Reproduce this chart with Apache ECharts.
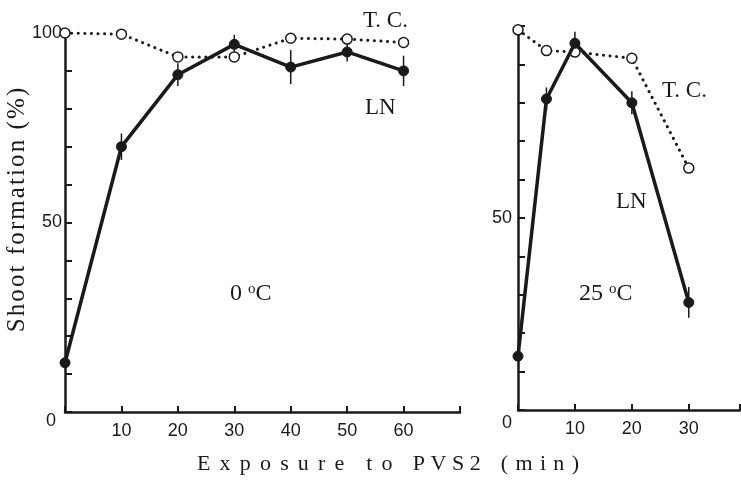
<!DOCTYPE html>
<html><head><meta charset="utf-8">
<script src="https://cdn.jsdelivr.net/npm/echarts@6/dist/echarts.min.js"></script>
<style>html,body{margin:0;padding:0;background:#fff}#c{width:741px;height:480px}</style>
</head><body><div id="c"></div>
<script>
// ---- data ----
const xLeft = [0, 10, 20, 30, 40, 50, 60];
const lnLeft = [13, 70, 89, 97, 91, 95, 90];
const lnLeftErr = [1, 3.5, 3, 2.5, 4.5, 2.5, 4];
const tcLeft = [100, 99.7, 93.7, 93.7, 98.6, 98.4, 97.5];
const xRight = [0, 5, 10, 20, 30];
const lnRight = [14, 81, 95.5, 80, 28];
const lnRightErr = [1, 3, 3, 3, 4];
const tcRight = [99, 93.6, 93.2, 91.6, 63];
const yLabelsLeft = [0, 50, 100];
const yLabelsRight = [0, 50];
const xLabelsLeft = [10, 20, 30, 40, 50, 60];
const xLabelsRight = [10, 20, 30];

const SERIF = '"Liberation Serif","DejaVu Serif",serif';
const NUM = '"Liberation Sans Narrow","Liberation Sans",Arial,sans-serif';
const INK = '#1a1a1a';
const HS = '\u200A';

// letter-spaced title: each word with its own tracking and following gap
const xTitle = [['Exposure', ' ' + HS + HS, '    '], ['to', ' ' + HS + HS, '   ' + HS + HS],
                ['PVS2', ' ', '   ' + HS + HS], ['(min)', ' ' + HS, '']]
  .map(([w, g, after]) => w.split('').join(g) + after).join('');

const pairs = (xs, ys) => xs.map((x, i) => [x, ys[i]]);
const errs = (xs, ys, es) => xs.map((x, i) => [x, ys[i] - es[i], ys[i] + es[i]]);

function errRender(params, api) {
  const x = api.value(0);
  const p1 = api.coord([x, api.value(1)]);
  const p2 = api.coord([x, api.value(2)]);
  return { type: 'line', shape: { x1: p1[0], y1: p1[1], x2: p2[0], y2: p2[1] },
           style: { stroke: INK, lineWidth: 1.5 } };
}

function yAxisCfg(idx, labels, zeroPad) {
  return {
    type: 'value', gridIndex: idx, min: 0, max: 100, interval: 10,
    axisLine: { show: true, lineStyle: { color: INK, width: 2.5 } },
    axisTick: { show: true, inside: true, length: 7, lineStyle: { color: INK, width: 2 } },
    splitLine: { show: false },
    axisLabel: {
      margin: idx === 0 ? 3 : 6, fontFamily: NUM, fontSize: 18, color: INK,
      formatter: v => v === 0 ? (labels.includes(0) ? '{z|0}' : '') : (labels.includes(v) ? String(v) : ''),
      rich: { z: { fontFamily: NUM, fontSize: 18, color: INK, padding: zeroPad } }
    }
  };
}
function xAxisCfg(idx, max, labels) {
  return {
    type: 'value', gridIndex: idx, min: 0, max: max, interval: 10,
    axisLine: { show: true, lineStyle: { color: INK, width: 2.5 } },
    axisTick: { show: true, inside: true, length: 6, lineStyle: { color: INK, width: 2 } },
    splitLine: { show: false },
    axisLabel: {
      margin: 10, fontFamily: NUM, fontSize: 18, color: INK,
      formatter: v => labels.includes(v) ? String(v) : ''
    }
  };
}

const lnStyle = { color: INK, width: 3.5 };
const tcStyle = { color: INK, width: 3, type: [0.1, 6.5], cap: 'round' };

const chart = echarts.init(document.getElementById('c'), null, { renderer: 'canvas' });
chart.setOption({
  backgroundColor: '#fff',
  animation: false,
  grid: [
    { left: 65, top: 33, width: 395, height: 379, containLabel: false, outerBoundsMode: 'none' },
    { left: 518, top: 26, width: 222, height: 384, containLabel: false, outerBoundsMode: 'none' }
  ],
  xAxis: [xAxisCfg(0, 70, xLabelsLeft), xAxisCfg(1, 39, xLabelsRight)],
  yAxis: [yAxisCfg(0, yLabelsLeft, [18, 6, 0, 0]), yAxisCfg(1, yLabelsRight, [26, 0, 0, 0])],
  series: [
    { type: 'custom', xAxisIndex: 0, yAxisIndex: 0, renderItem: errRender, data: errs(xLeft, lnLeft, lnLeftErr), z: 1 },
    { type: 'custom', xAxisIndex: 1, yAxisIndex: 1, renderItem: errRender, data: errs(xRight, lnRight, lnRightErr), z: 1 },
    { type: 'line', xAxisIndex: 0, yAxisIndex: 0, data: pairs(xLeft, tcLeft), lineStyle: tcStyle,
      symbol: 'circle', symbolSize: 10, itemStyle: { color: '#fff', borderColor: INK, borderWidth: 1.5 }, z: 3 },
    { type: 'line', xAxisIndex: 0, yAxisIndex: 0, data: pairs(xLeft, lnLeft), lineStyle: lnStyle,
      symbol: 'circle', symbolSize: 10, itemStyle: { color: INK, borderColor: INK }, z: 4 },
    { type: 'line', xAxisIndex: 1, yAxisIndex: 1, data: pairs(xRight, tcRight), lineStyle: tcStyle,
      symbol: 'circle', symbolSize: 10, itemStyle: { color: '#fff', borderColor: INK, borderWidth: 1.5 }, z: 3 },
    { type: 'line', xAxisIndex: 1, yAxisIndex: 1, data: pairs(xRight, lnRight), lineStyle: lnStyle,
      symbol: 'circle', symbolSize: 10, itemStyle: { color: INK, borderColor: INK }, z: 4 }
  ],
  graphic: [
    { type: 'text', left: 363, top: 9, style: { text: 'T. C.', font: '23px ' + SERIF, fill: INK } },
    { type: 'text', left: 365, top: 96, style: { text: 'LN', font: '23px ' + SERIF, fill: INK } },
    { type: 'text', left: 662, top: 79, style: { text: 'T. C.', font: '23px ' + SERIF, fill: INK } },
    { type: 'text', left: 616, top: 190, style: { text: 'LN', font: '23px ' + SERIF, fill: INK } },
    { type: 'text', left: 230, top: 282, style: { text: '0 {s|o}C', font: '24px ' + SERIF, fill: INK,
        rich: { s: { fontFamily: SERIF, fontSize: 15, verticalAlign: 'top', padding: [0, 0, 9, 0] } } } },
    { type: 'text', left: 579, top: 282, style: { text: '25 {s|o}C', font: '24px ' + SERIF, fill: INK,
        rich: { s: { fontFamily: SERIF, fontSize: 15, verticalAlign: 'top', padding: [0, 0, 9, 0] } } } },
    { type: 'text', x: 17, y: 210, rotation: Math.PI / 2,
      style: { text: 'Shoot formation (%)'.split('').join(HS), font: '25px ' + SERIF, fill: INK,
               align: 'center', verticalAlign: 'middle' } },
    { type: 'text', left: 197, top: 453, style: { text: xTitle, font: '22px ' + SERIF, fill: INK } }
  ]
});
</script>
</body></html>
